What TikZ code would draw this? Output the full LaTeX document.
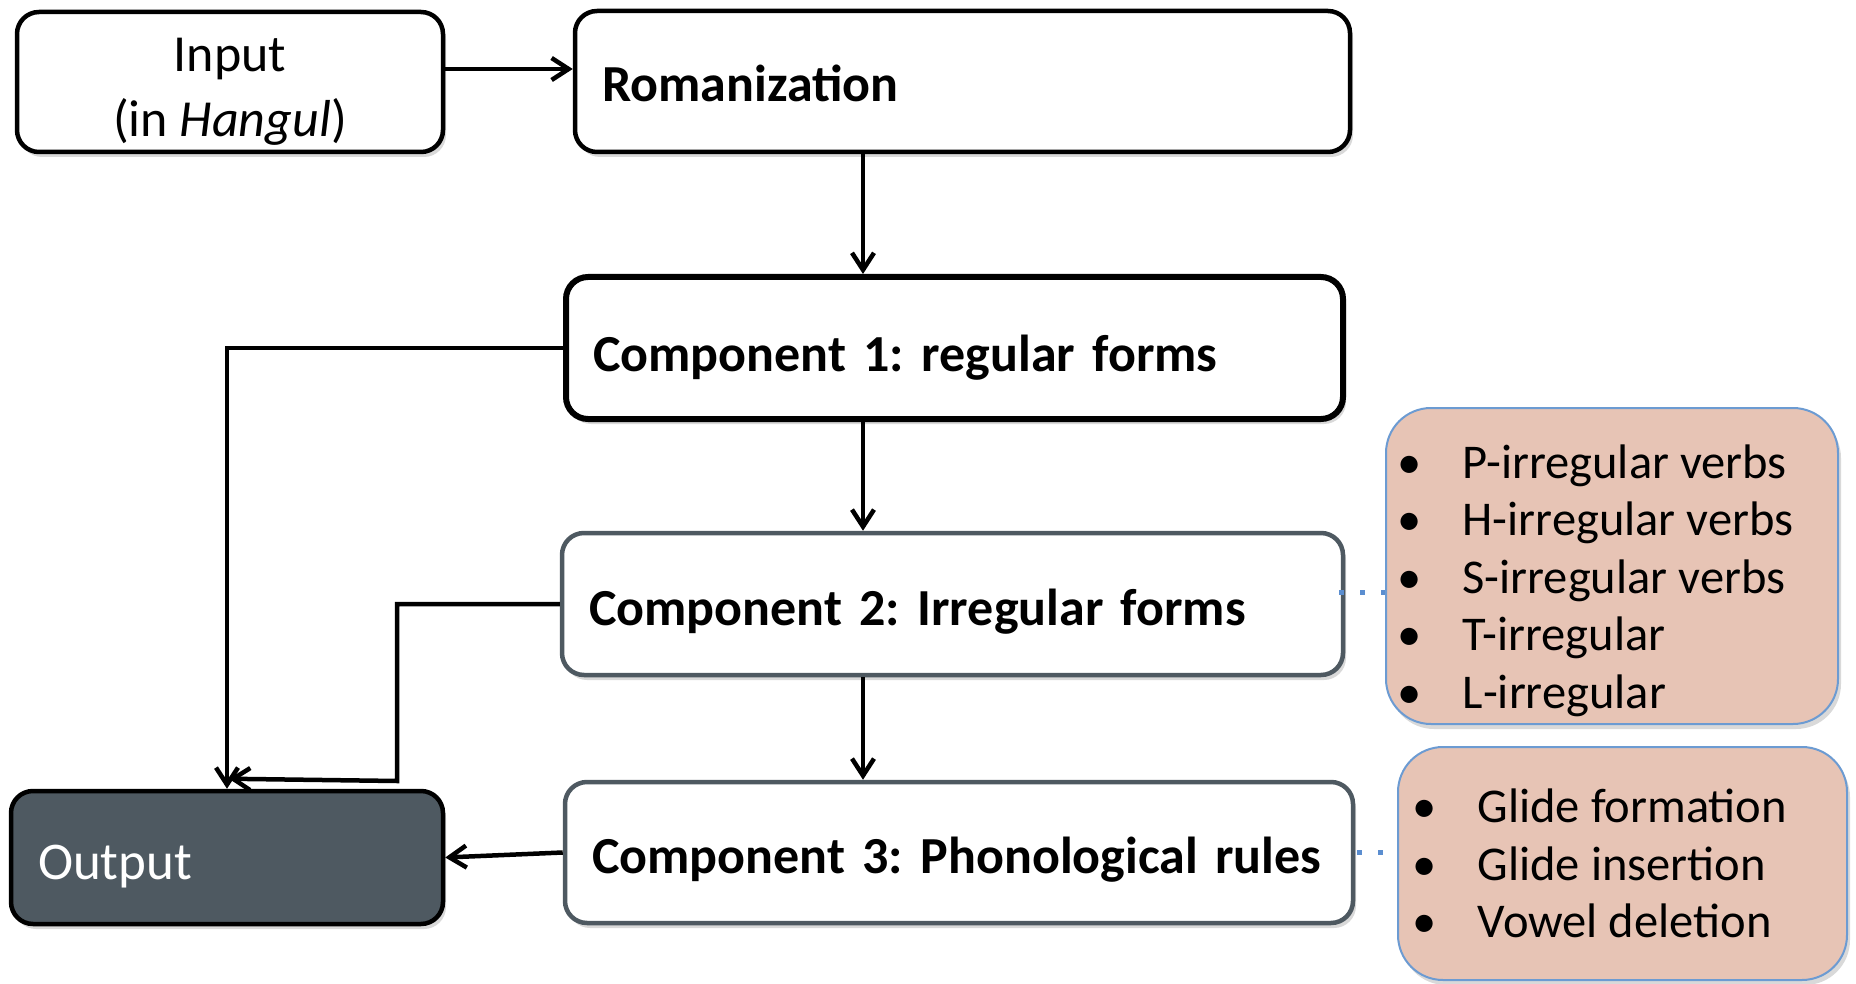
\documentclass[tikz,border=0pt]{standalone}
\usepackage{fontspec}
\setmainfont{Carlito}
\usetikzlibrary{arrows.meta,shadows}
\definecolor{slate}{HTML}{4E5961}
\definecolor{pinkfill}{HTML}{E7C4B5}
\definecolor{blueline}{HTML}{6C9BD2}
\definecolor{dotblue}{HTML}{5B8ED0}
\newcommand\bulitem{\makebox[65.5pt][l]{\textbullet}}
\frenchspacing
\begin{document}
\begin{tikzpicture}[x=1pt,y=-1pt,
  shad/.style={drop shadow={shadow xshift=3pt,shadow yshift=-5pt,opacity=0.3}},
  box/.style={rounded corners=22pt, line width=4.5pt, draw=black, fill=white, shad,
    inner xsep=27pt, inner ysep=0pt, align=left},
  compbox/.style={box, font=\bfseries\fontsize{52}{62}\selectfont, text depth=0pt},
  sidebox/.style={rounded corners=45pt, line width=2pt, draw=blueline, fill=pinkfill, shad},
  sidetext/.style={inner sep=0pt, anchor=west, align=left, font=\fontsize{48.5}{57.5}\selectfont},
  arr/.style={line width=4.5pt, -{Straight Barb[length=17pt,width=22pt,line width=4.5pt]}},
  dots/.style={dotblue, line width=5pt, dash pattern=on 5pt off 16pt}]
\useasboundingbox (0,0) rectangle (1856,984);

\node[box, text width=372pt, minimum height=140pt] (input) at (230,82) {};
\node[inner sep=0pt, align=center, font=\fontsize{52}{65}\selectfont] (inputtxt)
  at ([yshift=-9.5pt]input.center) {Input\\(in \textit{Hangul})};
\node[compbox, text width=721pt, minimum height=141pt, text height=41pt] (roman) at (962.5,81.5) {Romanization};
\node[compbox, line width=6pt, text width=723pt, minimum height=142pt, text height=47pt] (comp1) at (954.5,348) {Component 1: regular forms};
\node[compbox, draw=slate, text width=727pt, minimum height=142pt, text height=43pt] (comp2) at (952.5,604) {Component 2: Irregular forms};
\node[compbox, draw=slate, text width=734pt, minimum height=141pt, text height=41pt] (comp3) at (959,852.5) {Component 3: Phonological rules};
\node[box, fill=slate, text=white, text width=378pt, minimum height=133pt,
  font=\fontsize{53}{62}\selectfont, text height=43pt, text depth=0pt] (output) at (227,857.5) {Output};

\node[sidebox, minimum width=452pt, minimum height=316pt] (side1) at (1612,566) {};
\node[sidetext] (list1) at (1397,580.5) {\bulitem P-irregular verbs\\\bulitem H-irregular verbs\\\bulitem S-irregular verbs\\\bulitem T-irregular\\\bulitem L-irregular};
\node[sidebox, minimum width=449pt, minimum height=233pt] (side2) at (1622.5,863.5) {};
\node[sidetext] (list2) at (1412,863.5) {\bulitem Glide formation\\\bulitem Glide insertion\\\bulitem Vowel deletion};

% connectors
\coordinate (ia) at ([yshift=13pt]input.east);
\draw[arr] (ia) -- (ia -| roman.west);
\coordinate (vx) at (863,0);
\draw[arr] (roman.south -| vx) -- (comp1.north -| vx);
\draw[arr] (comp1.south -| vx) -- (comp2.north -| vx);
\draw[arr] (comp2.south -| vx) -- (comp3.north -| vx);
\draw[arr] (comp3.west) -- (output.east);
\draw[arr] (comp1.west) -| (output.north);
\coordinate (j2) at (397,781);
\draw[arr] (comp2.west) -| (j2) -- ([xshift=2pt,yshift=10pt]output.north);

\coordinate (d1) at ([xshift=-6pt,yshift=12pt]comp2.east);
\draw[dots] (d1) -- (d1 -| side1.west);
\coordinate (d2) at ([xshift=2pt]comp3.east);
\draw[dots] (d2) -- (d2 -| side2.west);
\end{tikzpicture}
\end{document}
